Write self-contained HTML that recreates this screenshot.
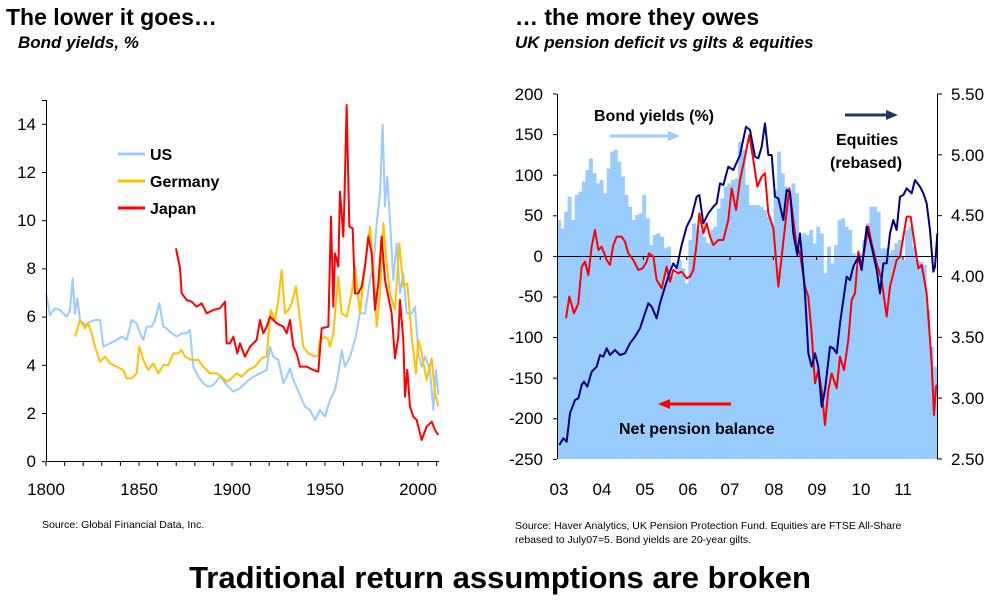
<!DOCTYPE html>
<html><head><meta charset="utf-8"><style>
html,body{margin:0;padding:0;background:#fff;}
body{width:1000px;height:612px;position:relative;overflow:hidden;font-family:"Liberation Sans",Arial,sans-serif;}
.t{position:absolute;white-space:nowrap;color:#000;}
</style></head><body>
<div class="t" style="left:6px;top:4px;font-size:23px;font-weight:bold;">The lower it goes…</div>
<div class="t" style="left:18px;top:33px;font-size:17px;font-weight:bold;font-style:italic;">Bond yields, %</div>
<div class="t" style="left:515px;top:4px;font-size:23px;font-weight:bold;">… the more they owes</div>
<div class="t" style="left:515px;top:33px;font-size:17px;font-weight:bold;font-style:italic;">UK pension deficit vs gilts &amp; equities</div>
<div class="t" style="left:42px;top:519px;font-size:10.5px;">Source: Global Financial Data, Inc.</div>
<div class="t" style="left:515px;top:519px;font-size:10.5px;line-height:14px;">Source: Haver Analytics, UK Pension Protection Fund. Equities are FTSE All-Share<br>rebased to July07=5. Bond yields are 20-year gilts.</div>
<div class="t" style="left:0;width:1000px;text-align:center;top:560px;font-size:31px;font-weight:bold;">Traditional return assumptions are broken</div>

<svg width="1000" height="612" style="position:absolute;left:0;top:0" font-family="Liberation Sans, Arial, sans-serif">
<g transform="translate(0,80) scale(0.33333)">
<g fill="none" stroke-width="6" stroke-linejoin="round">
<polyline stroke="#99ccff" points="138,640 150,705 165,685 180,690 200,710 210,690 218,595 225,700 232,655 240,720 255,735 270,725 285,720 300,720 310,800 330,790 350,780 365,770 380,780 395,720 410,730 420,760 430,780 440,740 455,740 465,720 478,670 490,740 500,745 515,760 530,770 545,760 560,760 570,750 580,860 595,890 610,910 625,920 640,915 660,890 680,915 700,935 720,925 740,905 760,890 780,880 800,870 810,800 820,830 835,840 850,910 860,890 870,865 880,900 900,945 915,980 930,990 945,1020 960,990 975,1010 990,960 1005,930 1015,880 1025,810 1035,860 1050,830 1065,780 1080,700 1095,700 1110,600 1120,560 1130,430 1140,340 1148,135 1155,380 1162,290 1170,420 1180,600 1190,490 1200,640 1210,580 1220,700 1235,700 1245,680 1255,820 1265,860 1275,830 1290,870 1300,990 1308,870 1315,945"/>
<polyline stroke="#ffc000" points="225,770 240,720 255,745 265,730 275,760 285,800 300,845 315,830 330,850 350,860 370,870 380,895 395,895 410,880 418,800 430,840 445,870 460,850 475,880 490,855 505,855 520,820 535,820 545,810 555,830 575,840 595,840 610,860 630,880 650,880 665,890 680,905 695,895 710,880 725,890 745,870 765,860 785,835 800,830 812,690 825,720 835,660 845,570 855,700 865,690 875,670 888,620 900,720 910,800 925,820 945,830 955,825 960,780 975,770 985,780 990,800 1000,760 1015,590 1025,700 1040,710 1055,640 1065,560 1080,700 1095,560 1110,440 1120,560 1130,740 1140,640 1150,430 1160,550 1170,640 1185,690 1198,490 1210,620 1222,610 1235,770 1248,880 1255,780 1265,820 1280,900 1295,835 1305,940 1315,980"/>
<polyline stroke="#ff0000" points="528,505 540,565 545,640 560,660 575,665 590,680 605,670 620,700 640,690 660,685 675,665 680,790 690,790 700,770 712,820 720,790 735,830 750,800 770,780 780,720 790,760 800,740 810,710 830,730 850,740 860,760 870,720 880,800 890,820 900,860 920,860 940,870 955,875 965,745 985,740 993,410 1000,680 1005,520 1015,560 1020,335 1030,470 1033,370 1040,75 1048,440 1058,445 1065,640 1075,640 1085,620 1095,560 1105,470 1115,520 1125,690 1135,610 1145,470 1155,600 1165,650 1175,700 1185,835 1195,770 1200,660 1210,780 1215,950 1222,870 1230,980 1240,1010 1250,1020 1265,1080 1280,1040 1295,1025 1305,1050 1315,1065"/>
</g>
</g>
<g stroke="#000" stroke-width="1">
<line x1="46.5" y1="100" x2="46.5" y2="462"/>
<line x1="46" y1="461.5" x2="439" y2="461.5"/>
<line x1="46" y1="100.5" x2="42" y2="100.5"/>
</g>
<g id="lticks" stroke="#000" stroke-width="1"></g>
<g font-size="17" text-anchor="end">
<text x="36" y="467">0</text><text x="36" y="419">2</text><text x="36" y="371">4</text><text x="36" y="322">6</text><text x="36" y="274">8</text><text x="36" y="226">10</text><text x="36" y="178">12</text><text x="36" y="130">14</text>
</g>
<g font-size="17" text-anchor="middle">
<text x="46" y="495">1800</text><text x="139" y="495">1850</text><text x="232" y="495">1900</text><text x="325" y="495">1950</text><text x="418" y="495">2000</text>
</g>
<g stroke-width="3">
<line x1="118" y1="154" x2="145" y2="154" stroke="#99ccff"/>
<line x1="118" y1="181" x2="145" y2="181" stroke="#ffc000"/>
<line x1="118" y1="208" x2="145" y2="208" stroke="#ff0000"/>
</g>
<g font-size="16" font-weight="bold">
<text x="150" y="160">US</text><text x="150" y="187">Germany</text><text x="150" y="214">Japan</text>
</g>

<g id="bars" fill="#99ccff"></g>
<line x1="557" y1="256.5" x2="937" y2="256.5" stroke="#000" stroke-width="1"/>
<g transform="translate(500,80) scale(0.33333)" fill="none" stroke-width="6" stroke-linejoin="round">
<polyline stroke="#ff0000" points="198,715 208,650 222,700 235,670 245,560 255,545 265,585 275,500 285,450 295,510 305,500 320,540 330,555 340,495 350,470 365,470 375,485 385,520 400,540 415,570 428,565 440,545 447,520 460,530 470,600 485,625 500,560 510,605 520,570 535,580 545,575 560,595 570,590 580,570 590,490 598,400 610,460 620,430 630,470 640,495 655,480 670,480 685,420 695,325 708,390 720,300 735,230 748,165 760,240 772,320 785,290 795,280 805,400 820,445 835,620 845,530 855,440 868,325 880,420 890,500 900,520 915,620 925,650 935,760 945,910 955,870 965,930 975,1035 985,930 995,880 1010,925 1020,830 1032,870 1045,780 1055,660 1065,640 1075,515 1085,560 1095,500 1105,440 1115,490 1130,550 1145,600 1160,710 1170,620 1180,580 1190,540 1200,530 1210,470 1220,410 1232,410 1245,500 1255,565 1265,555 1280,640 1295,850 1302,1005 1308,920 1312,915"/>
<polyline stroke="#000080" points="178,1095 190,1075 200,1085 210,1000 225,960 235,955 245,915 252,905 262,920 275,875 290,860 300,825 310,830 320,805 330,825 345,810 360,825 375,820 390,790 405,770 420,745 430,715 445,670 455,680 470,715 480,670 495,620 510,575 520,550 530,565 545,495 560,440 575,410 590,350 598,345 610,430 625,400 640,380 650,370 660,310 670,315 685,260 700,270 720,225 738,140 750,150 765,230 775,235 785,200 795,130 805,225 815,225 825,350 835,355 850,420 860,330 870,335 880,460 892,525 900,460 905,520 915,640 925,820 935,860 945,820 955,860 965,980 975,930 990,800 1000,805 1010,820 1020,730 1040,590 1050,600 1060,560 1075,530 1085,570 1100,440 1115,500 1130,570 1140,640 1150,550 1160,550 1170,460 1180,420 1190,450 1200,350 1210,345 1220,325 1235,340 1245,300 1260,320 1270,340 1280,370 1290,450 1300,575 1305,560 1312,460"/>
</g>
<g stroke="#000" stroke-width="1">
<line x1="557.5" y1="94" x2="557.5" y2="459"/>
<line x1="937.5" y1="94" x2="937.5" y2="459"/>
</g>
<g id="rticks" stroke="#000" stroke-width="1"></g>
<g font-size="17" text-anchor="end">
<text x="543" y="100">200</text><text x="543" y="140">150</text><text x="543" y="181">100</text><text x="543" y="221">50</text><text x="543" y="262">0</text><text x="543" y="302">-50</text><text x="543" y="343">-100</text><text x="543" y="384">-150</text><text x="543" y="424">-200</text><text x="543" y="465">-250</text>
</g>
<g font-size="17" text-anchor="start">
<text x="951" y="100">5.50</text><text x="951" y="161">5.00</text><text x="951" y="221">4.50</text><text x="951" y="282">4.00</text><text x="951" y="343">3.50</text><text x="951" y="404">3.00</text><text x="951" y="465">2.50</text>
</g>
<g font-size="17" text-anchor="middle">
<text x="559" y="495">03</text><text x="602" y="495">04</text><text x="645" y="495">05</text><text x="688" y="495">06</text><text x="730" y="495">07</text><text x="774" y="495">08</text><text x="817" y="495">09</text><text x="861" y="495">10</text><text x="903" y="495">11</text>
</g>
<g font-size="16" font-weight="bold">
<text x="594" y="121">Bond yields (%)</text>
<text x="836" y="145">Equities</text>
<text x="830" y="168">(rebased)</text>
<text x="619" y="434">Net pension balance</text>
</g>
<line x1="610" y1="136" x2="672" y2="136" stroke="#99ccff" stroke-width="3"/>
<polygon points="668,131 680,136 668,141" fill="#99ccff"/>
<line x1="845" y1="115" x2="890" y2="115" stroke="#1f3864" stroke-width="3"/>
<polygon points="886,110 898,115 886,120" fill="#1f3864"/>
<line x1="668" y1="404" x2="731" y2="404" stroke="#ff0000" stroke-width="3"/>
<polygon points="670,399 658,404 670,409" fill="#ff0000"/>
</svg>
<script>
var NS="http://www.w3.org/2000/svg";
function el(p,t,a){var e=document.createElementNS(NS,t);for(var k in a)e.setAttribute(k,a[k]);p.appendChild(e);}
var lt=document.getElementById('lticks');
for(var y=1800;y<=2010;y+=10){var x=46+(y-1800)*1.86;el(lt,'line',{x1:x,y1:462,x2:x,y2:466});}
for(var v=0;v<=14;v+=2){var yy=461.7-v*24.1;el(lt,'line',{x1:42,y1:yy,x2:46,y2:yy});}
var rt=document.getElementById('rticks');
for(var i=0;i<=9;i++){var yy=94+i*40.6;el(rt,'line',{x1:553,y1:yy,x2:557,y2:yy});}
for(var i=0;i<=6;i++){var yy=94+i*60.83;el(rt,'line',{x1:937,y1:yy,x2:942,y2:yy});}
for(var i=1;i<=8;i++){var x=557+i*43.25;el(rt,'line',{x1:x,y1:256,x2:x,y2:260});}
var tops=[420,445,395,350,420,345,335,305,270,235,280,310,300,340,265,215,210,245,290,345,380,420,405,400,345,415,495,465,460,470,505,500,590,580,540,565,610,480,430,445,450,470,490,450,440,385,355,320,310,300,295,185,210,315,375,375,375,380,390,410,430,330,215,280,320,350,310,340,500,460,465,450,490,440,460,580,500,550,495,420,415,440,450,520,560,520,480,430,380,380,395,505,505,520,510,490,480,540,450,440,500,540,545,555,690,800,860];
var b=document.getElementById('bars');var n=tops.length;var w=(937-557)/n;
for(var i=0;i<n;i++){var ty=80+tops[i]/3;el(b,'rect',{x:557+i*w,y:ty,width:w+0.4,height:459-ty});}
</script>
</body></html>
